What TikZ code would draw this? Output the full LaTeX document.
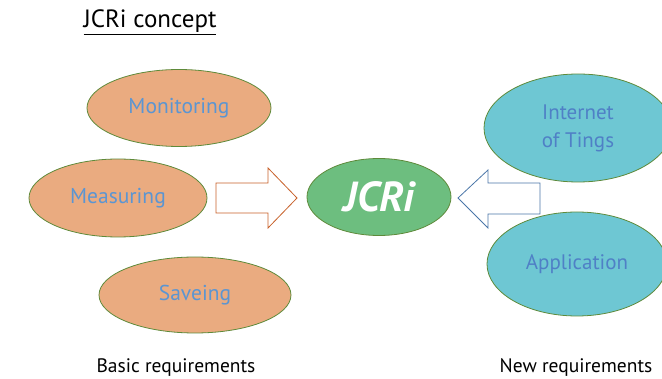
\documentclass[tikz,border=0pt]{standalone}
\usepackage{fontspec}
\setmainfont{PT Sans}
\usepackage{xcolor}
\usepackage{tikz}
\usetikzlibrary{shapes.geometric}

\definecolor{basicfill}{HTML}{EAAB80}
\definecolor{corefill}{HTML}{6DBE7F}
\definecolor{newfill}{HTML}{6EC7D3}
\definecolor{rimgreen}{HTML}{5E8A3A}
\definecolor{labelblue}{HTML}{5B95D2}
\definecolor{newblue}{HTML}{4F80C6}
\definecolor{pushorange}{HTML}{C8612A}
\definecolor{pushblue}{HTML}{4A76A8}

\tikzset{
    req/.style={ellipse, draw=rimgreen, line width=0.8pt, inner sep=0pt},
    basic/.style={req, fill=basicfill, text=labelblue, font=\fontsize{21.5}{24}\selectfont},
    newreq/.style={req, fill=newfill, text=newblue, font=\fontsize{21}{28}\selectfont, align=center},
    caption/.style={font=\fontsize{19.5}{22}\selectfont}
}

\begin{document}
\begin{tikzpicture}[x=1pt, y=-1pt]
            \useasboundingbox (0,0) rectangle (662,379);
            \clip (0,0) rectangle (662,379);

            \node[font=\fontsize{25}{28}\selectfont] (title) at (150,22) {\underline{JCRi concept}};

            \node[basic, minimum width=184, minimum height=77] (mon) at (179,108) {\raisebox{-2pt}{Monitoring}};
            \node[basic, minimum width=178, minimum height=78] (mea) at (118,198) {\raisebox{-2pt}{Measuring}};
            \node[basic, minimum width=192, minimum height=76] (sav) at (195,295) {\raisebox{-2pt}{Saveing}};

            \node[req, fill=corefill, minimum width=144, minimum height=77,
                  text=white, font=\fontsize{42}{44}\selectfont\bfseries\itshape] (jcri) at (379,197) {JCRi};

            \node[newreq, minimum width=188, minimum height=108] (iot) at (578,128) {Internet\\of Tings};
            \node[newreq, minimum width=180, minimum height=104] (app) at (577,264) {\raisebox{-2pt}{Application}};

            % block arrows
            \draw[pushorange, line width=0.8pt, fill=white]
                (216,183) -- (268,183) -- (268,168) -- (297,198) -- (268,228) -- (268,213) -- (216,213) -- cycle;
            \draw[pushblue, line width=0.8pt, fill=white]
                (540,183) -- (488,183) -- (488,170) -- (458,198) -- (488,228) -- (488,214) -- (540,214) -- cycle;

            \node[caption] (basiccap) at (176,368) {Basic requirements};
            \node[caption] (newcap) at (576,368) {New requirements};
        \end{tikzpicture}
\end{document}
